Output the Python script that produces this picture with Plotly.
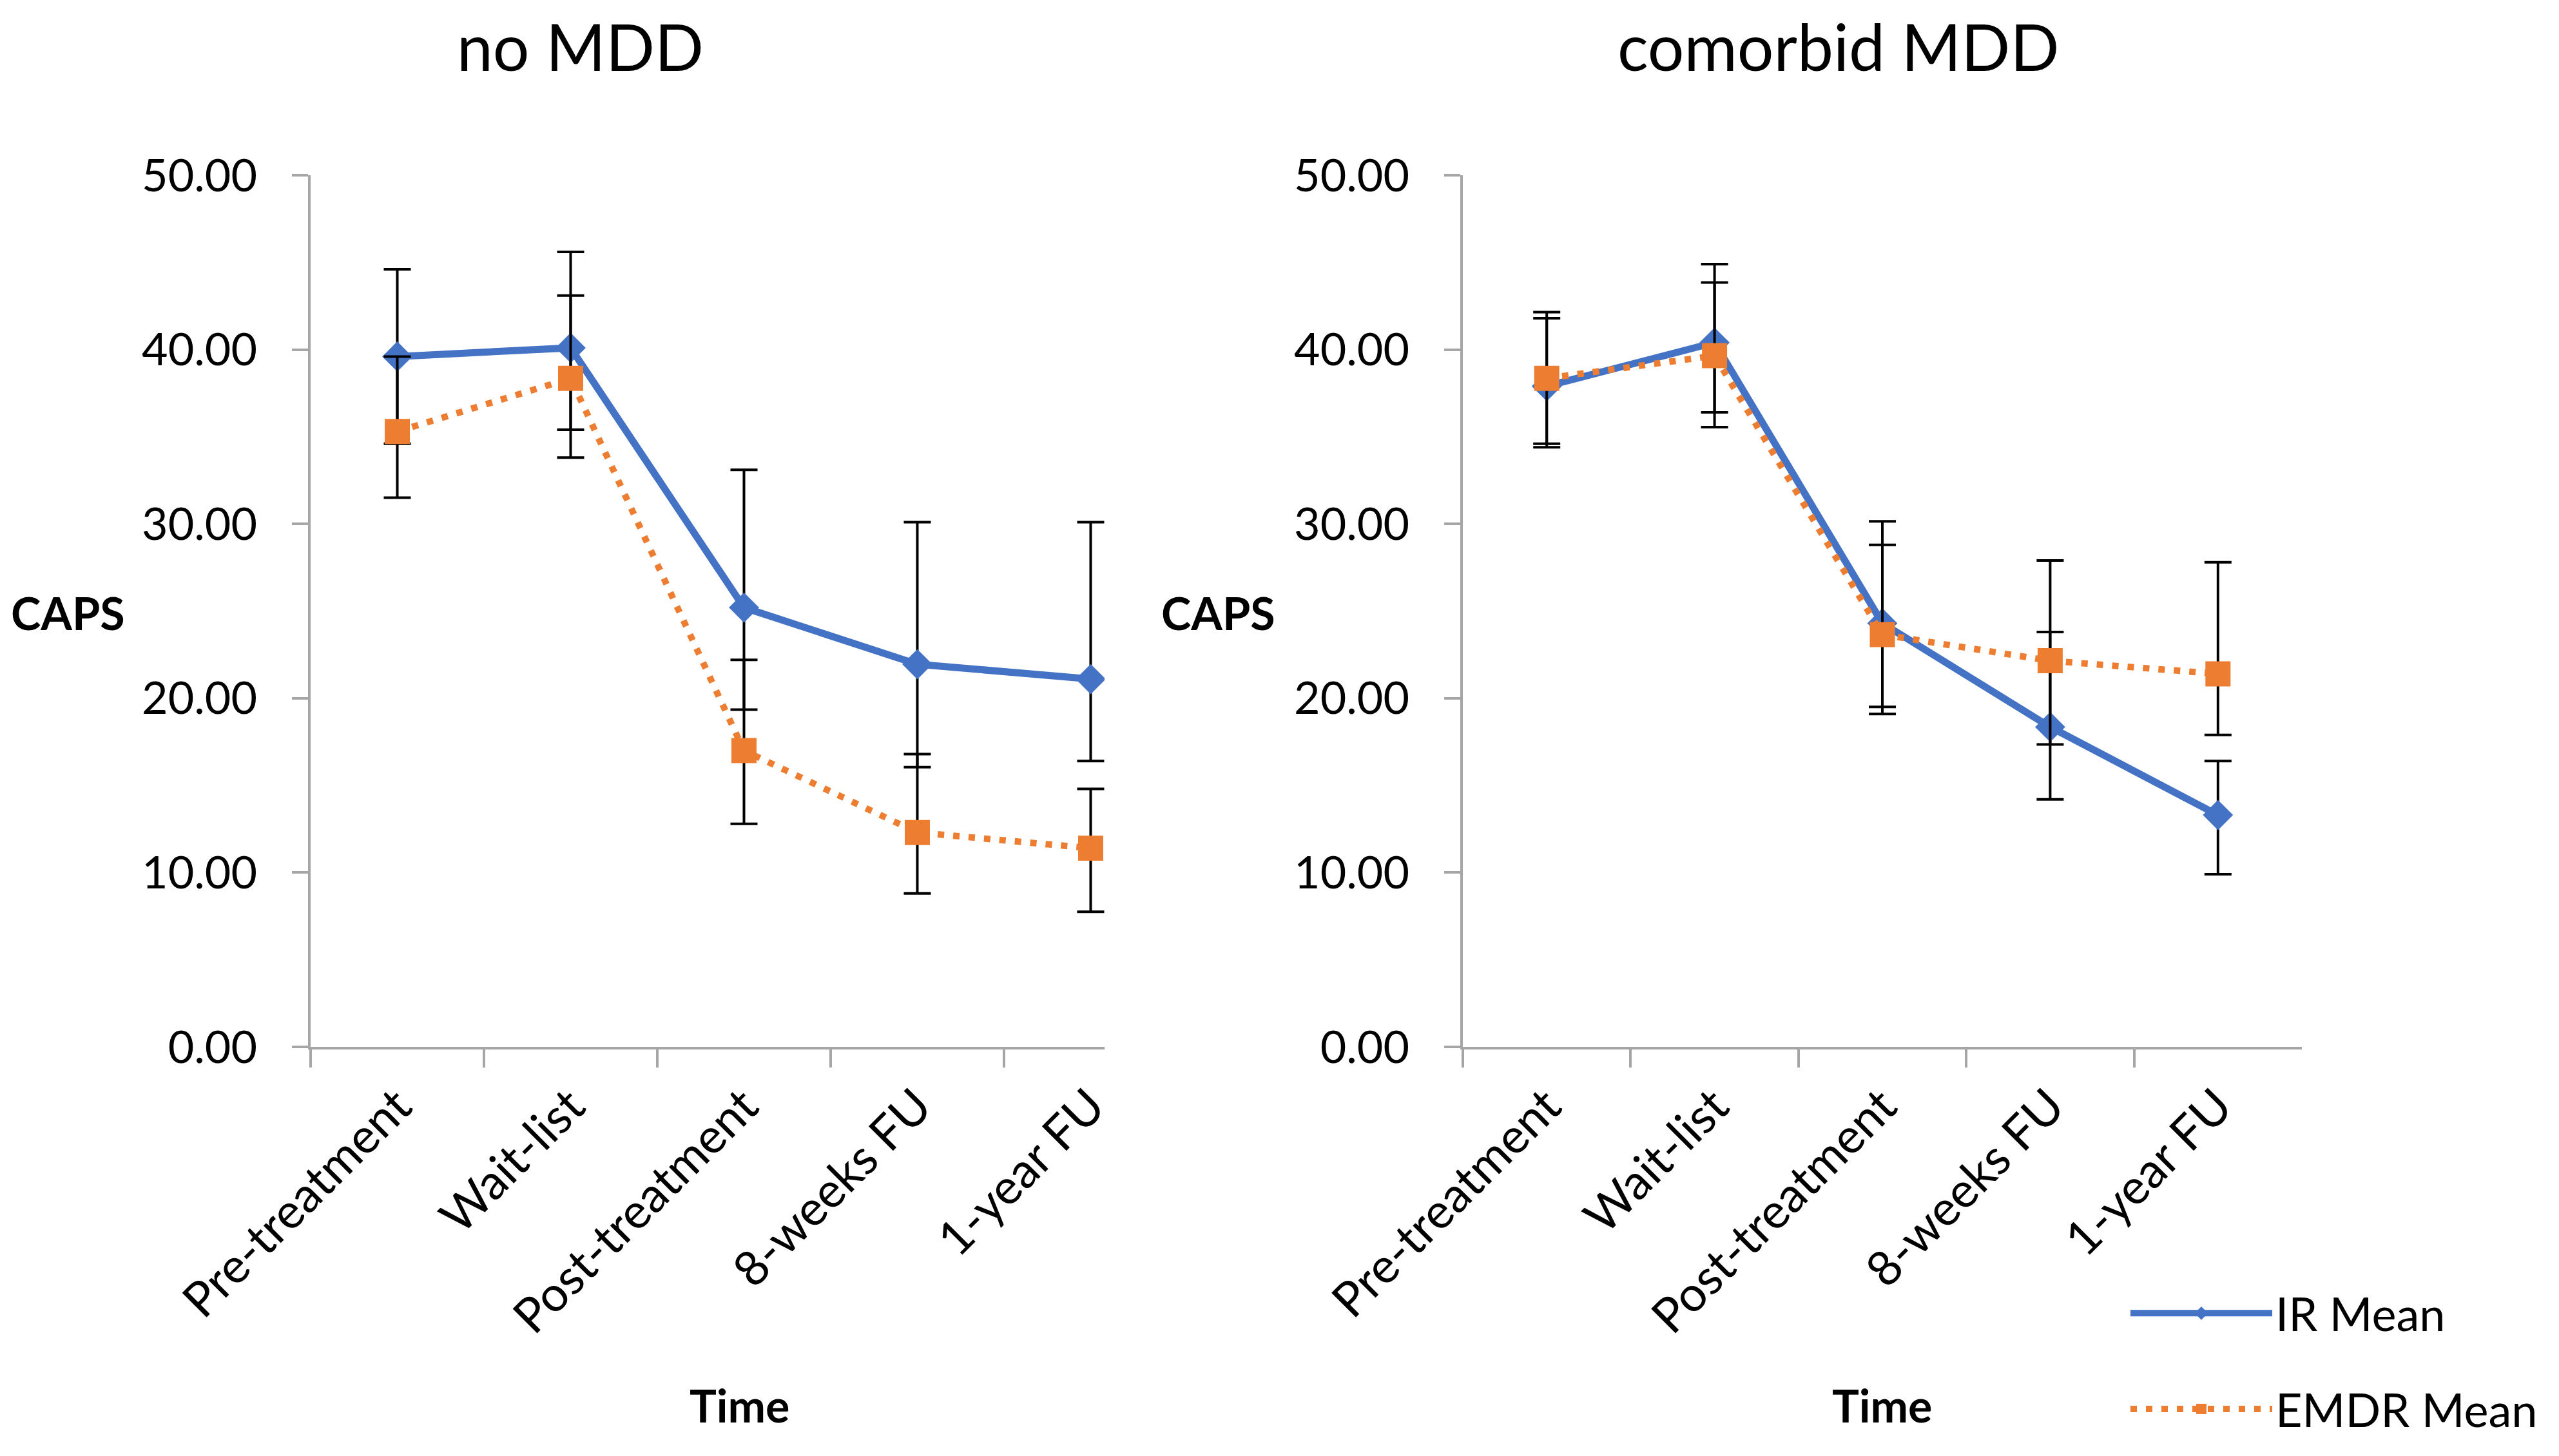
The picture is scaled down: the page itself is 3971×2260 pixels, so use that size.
import numpy as np
import plotly.graph_objects as go

# ---- data ----
categories = ["Pre-treatment", "Wait-list", "Post-treatment", "8-weeks FU", "1-year FU"]
y_ticks = [0, 10, 20, 30, 40, 50]

ir_no = [39.6, 40.1, 25.2, 21.95, 21.1]
ir_no_hi = [44.6, 45.6, 33.1, 30.1, 30.1]
ir_no_lo = [34.6, 35.4, 19.35, 16.05, 16.4]
emdr_no = [35.3, 38.35, 17.0, 12.3, 11.4]
emdr_no_hi = [39.6, 43.1, 22.2, 16.8, 14.8]
emdr_no_lo = [31.5, 33.8, 12.8, 8.8, 7.75]

ir_co = [37.9, 40.4, 24.3, 18.35, 13.3]
ir_co_hi = [42.15, 44.9, 30.15, 23.8, 16.4]
ir_co_lo = [34.4, 35.55, 19.1, 14.2, 9.9]
emdr_co = [38.35, 39.65, 23.65, 22.15, 21.4]
emdr_co_hi = [41.8, 43.85, 28.8, 27.9, 27.8]
emdr_co_lo = [34.6, 36.4, 19.5, 17.35, 17.9]

# ---- style ----
FONT = "Lato"
BLUE = "#4472C4"
ORANGE = "#ED7D31"
AXIS = "#A6A6A6"
TICK_SIZE = 70
XTICK_SIZE = 75


def err(mean, hi, lo):
    m = np.array(mean)
    return dict(type="data", symmetric=False,
                array=(np.array(hi) - m).tolist(),
                arrayminus=(m - np.array(lo)).tolist(),
                color="black", thickness=4, width=21)


fig = go.Figure()

panels = [
    ("x", "y", ir_no, ir_no_hi, ir_no_lo, emdr_no, emdr_no_hi, emdr_no_lo, True),
    ("x2", "y2", ir_co, ir_co_hi, ir_co_lo, emdr_co, emdr_co_hi, emdr_co_lo, False),
]
for xa, ya, ir, irh, irl, em, emh, eml, show in panels:
    fig.add_trace(go.Scatter(
        x=categories, y=ir, xaxis=xa, yaxis=ya, name="IR Mean",
        mode="lines+markers", showlegend=show, legendgroup="ir",
        line=dict(color=BLUE, width=11),
        marker=dict(symbol="diamond", size=36, color=BLUE),
        error_y=err(ir, irh, irl)))
    fig.add_trace(go.Scatter(
        x=categories, y=em, xaxis=xa, yaxis=ya, name="EMDR Mean",
        mode="lines+markers", showlegend=show, legendgroup="emdr",
        line=dict(color=ORANGE, width=10, dash="10px,14px"),
        marker=dict(symbol="square", size=39, color=ORANGE),
        error_y=err(em, emh, eml)))

W, H = 3971, 2260
OFF = 8  # page body margin of the html page


def px_x(v):
    return (v - OFF) / W


def px_y(v):
    return 1 - (v - OFF) / H


xcommon = dict(type="category", tickson="boundaries", ticks="outside", ticklen=28,
               tickwidth=4, tickcolor=AXIS, showline=True, linecolor=AXIS, linewidth=4,
               tickangle=-45, tickfont=dict(family=FONT, size=XTICK_SIZE, color="#000"),
               ticklabelstandoff=14,
               showgrid=False, zeroline=False, fixedrange=True, automargin=False)
ycommon = dict(range=[0, 50], tickvals=y_ticks, tickformat=".2f", ticks="outside",
               ticklen=25, tickwidth=4, tickcolor=AXIS, showline=True, linecolor=AXIS,
               linewidth=4, showgrid=False, zeroline=False, ticklabelstandoff=40,
               automargin=False, fixedrange=True,
               tickfont=dict(family=FONT, size=TICK_SIZE, color="#000"),
               domain=[px_y(1625), px_y(272)])

fig.update_layout(
    template="none",
    width=W, height=H,
    margin=dict(l=0, r=0, t=0, b=0, autoexpand=False),
    paper_bgcolor="white", plot_bgcolor="white",
    font=dict(family=FONT, color="#000"),
    xaxis=dict(xcommon, domain=[px_x(482), px_x(1714)], range=[-0.5, 4.08], anchor="y"),
    yaxis=dict(ycommon, anchor="x"),
    xaxis2=dict(xcommon, domain=[px_x(2270), px_x(3572)], range=[-0.5, 4.5], anchor="y2"),
    yaxis2=dict(ycommon, anchor="x2"),
    legend=dict(x=px_x(3301), y=px_y(1985), xanchor="left", yanchor="top",
                font=dict(family=FONT, size=72, color="#000"),
                itemwidth=220, tracegroupgap=52, traceorder="grouped",
                bgcolor="rgba(0,0,0,0)", borderwidth=0),
    showlegend=True,
)

annotations = [
    dict(text="no MDD", x=px_x(900), y=px_y(71), size=100, bold=False),
    dict(text="comorbid MDD", x=px_x(2852), y=px_y(71), size=100, bold=False),
    dict(text="CAPS", x=px_x(105), y=px_y(951), size=70, bold=True),
    dict(text="CAPS", x=px_x(1890), y=px_y(951), size=70, bold=True),
    dict(text="Time", x=px_x(1147), y=px_y(2181), size=70, bold=True),
    dict(text="Time", x=px_x(2920), y=px_y(2181), size=70, bold=True),
]
for a in annotations:
    fig.add_annotation(
        text=("<b>%s</b>" % a["text"]) if a["bold"] else a["text"],
        x=a["x"], y=a["y"], xref="paper", yref="paper",
        xanchor="center", yanchor="middle", showarrow=False,
        font=dict(family=FONT, size=a["size"], color="#000"))

fig.write_html("out.html")
